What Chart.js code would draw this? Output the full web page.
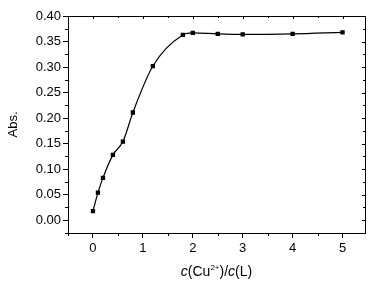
<!DOCTYPE html>
<html>
<head>
<meta charset="utf-8">
<script src="https://cdn.jsdelivr.net/npm/chart.js@4/dist/chart.umd.min.js"></script>
<style>
  html, body { margin: 0; padding: 0; background: #fff; }
  #wrap { position: relative; width: 381px; height: 284px; }
  #xtitle {
    position: absolute; left: 68px; width: 297px; top: 262px;
    text-align: center; font-family: "Liberation Sans", Arial, sans-serif;
    font-size: 14px; color: #000; line-height: 18px;
  }
  #xtitle sup { font-size: 8px; vertical-align: 6px; line-height: 0; }
</style>
</head>
<body>
<div id="wrap">
  <canvas id="chart" width="381" height="284"></canvas>
  <div id="xtitle"><i>c</i>(Cu<sup>2+</sup>)/<i>c</i>(L)</div>
</div>
<script>
// ratio c(Cu2+)/c(L) and absorbance
const ratio = [0, 0.1, 0.2, 0.4, 0.6, 0.8, 1.2, 1.8, 2.0, 2.5, 3.0, 4.0, 5.0];
const absorb = [0.018, 0.054, 0.083, 0.128, 0.154, 0.211, 0.302, 0.363, 0.367, 0.365, 0.364, 0.365, 0.368];

const xTicks = [0, 1, 2, 3, 4, 5];
const yTicks = [0, 0.05, 0.10, 0.15, 0.20, 0.25, 0.30, 0.35, 0.40];

const fontFam = '"Liberation Sans", Arial, sans-serif';

// minor ticks + top/right frame with inward ticks
const frameTicks = {
  id: "frameTicks",
  afterDraw(chart) {
    const { ctx, chartArea: a, scales } = chart;
    const x = scales.x, y = scales.y;
    ctx.save();
    ctx.strokeStyle = "#000";
    ctx.lineWidth = 1;
    ctx.beginPath();
    ctx.moveTo(a.left, a.top + 0.5);
    ctx.lineTo(a.right + 0.5, a.top + 0.5);
    ctx.lineTo(a.right + 0.5, a.bottom);
    ctx.stroke();
    ctx.beginPath();
    for (let v = -0.5; v <= 5.45; v += 0.5) {
      const px = Math.round(x.getPixelForValue(v)) + 0.5;
      const major = Math.abs(v - Math.round(v)) < 1e-6;
      if (!major) { ctx.moveTo(px, a.bottom); ctx.lineTo(px, a.bottom + 3); }
      ctx.moveTo(px, a.top); ctx.lineTo(px, a.top + (major ? 3 : 2));
    }
    for (let i = -1; i <= 16; i++) {
      const v = i * 0.025;
      const py = Math.round(y.getPixelForValue(v)) + 0.5;
      const major = i % 2 === 0;
      if (!major) { ctx.moveTo(a.left, py); ctx.lineTo(a.left - 3, py); }
      ctx.moveTo(a.right, py); ctx.lineTo(a.right - (major ? 3 : 2), py);
    }
    ctx.stroke();
    ctx.restore();
  }
};

new Chart(document.getElementById("chart"), {
  type: "line",
  data: {
    datasets: [{
      data: ratio.map((r, i) => ({ x: r, y: absorb[i] })),
      borderColor: "#000",
      backgroundColor: "#000",
      borderWidth: 1.2,
      pointStyle: "rect",
      pointRadius: 2.2,
      pointHoverRadius: 2.2,
      cubicInterpolationMode: "monotone",
      fill: false
    }]
  },
  plugins: [frameTicks],
  options: {
    responsive: false,
    animation: false,
    events: [],
    layout: { padding: { top: 16, right: 16, left: 0, bottom: 0 } },
    plugins: { legend: { display: false }, tooltip: { enabled: false } },
    scales: {
      x: {
        type: "linear",
        min: -0.5,
        max: 5.45,
        afterBuildTicks: s => { s.ticks = xTicks.map(v => ({ value: v })); },
        afterFit: s => { s.height = 51; },
        grid: { drawOnChartArea: false, tickLength: 5, tickColor: "#000" },
        border: { color: "#000", width: 1 },
        ticks: { color: "#000", font: { family: fontFam, size: 13 }, padding: 3 }
      },
      y: {
        min: -0.025,
        max: 0.40,
        afterBuildTicks: s => { s.ticks = yTicks.map(v => ({ value: v })); },
        afterFit: s => { s.width = 68; },
        grid: { drawOnChartArea: false, tickLength: 5, tickColor: "#000" },
        border: { color: "#000", width: 1 },
        ticks: {
          color: "#000", font: { family: fontFam, size: 13 }, padding: 2,
          callback: v => v.toFixed(2)
        },
        title: {
          display: true, text: "Abs.", color: "#000",
          font: { family: fontFam, size: 13 }, padding: { top: 6, bottom: 4 }
        }
      }
    }
  }
});
</script>
</body>
</html>
